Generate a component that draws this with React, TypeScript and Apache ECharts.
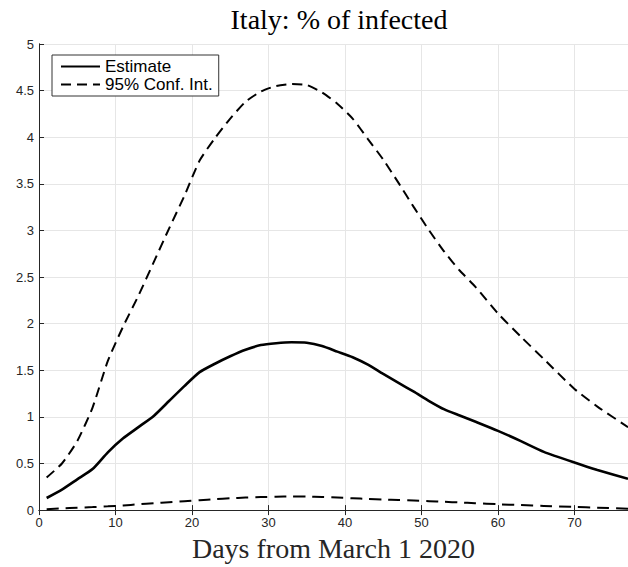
import React, { useEffect, useRef } from "react";
import * as echarts from "echarts";

const days = [1, 3, 5, 7, 9, 11, 13, 15, 17, 19, 21, 23, 25, 27, 29, 31, 33, 35, 37, 39, 41, 43, 45, 47, 49, 51, 53, 55, 57, 60, 63, 66, 70, 73, 77];
const estimate = [0.13, 0.22, 0.33, 0.44, 0.62, 0.77, 0.89, 1.01, 1.17, 1.33, 1.48, 1.57, 1.65, 1.72, 1.77, 1.79, 1.8, 1.795, 1.76, 1.7, 1.64, 1.56, 1.46, 1.365, 1.27, 1.17, 1.08, 1.015, 0.95, 0.85, 0.74, 0.625, 0.51, 0.43, 0.335];
const upperCI = [0.35, 0.5, 0.74, 1.1, 1.6, 1.97, 2.3, 2.66, 3.02, 3.37, 3.75, 3.99, 4.2, 4.38, 4.49, 4.55, 4.57, 4.56, 4.48, 4.36, 4.2, 3.98, 3.76, 3.51, 3.25, 3.0, 2.77, 2.57, 2.4, 2.11, 1.86, 1.62, 1.3, 1.11, 0.89];
const lowerCI = [0.01, 0.018, 0.025, 0.032, 0.04, 0.05, 0.062, 0.074, 0.085, 0.096, 0.106, 0.117, 0.127, 0.134, 0.14, 0.144, 0.146, 0.145, 0.141, 0.134, 0.127, 0.12, 0.114, 0.108, 0.102, 0.096, 0.089, 0.082, 0.074, 0.063, 0.054, 0.045, 0.034, 0.026, 0.015];

const titleText = "Italy: % of infected";
const xLabel = "Days from March 1 2020";
const seriesNames = ["Estimate", "95% Conf. Int."];

const pair = (vals: number[]) => days.map((d, i) => [d, vals[i]]);

export default function App() {
  const ref = useRef<HTMLDivElement>(null);
  useEffect(() => {
    document.body.style.margin = "0";
    const chart = echarts.init(ref.current!, null, { renderer: "svg" });
    const axisColor = "#262626";
    const sans = "Liberation Sans";
    const serif = "Liberation Serif";
    chart.setOption({
      animation: false,
      backgroundColor: "#ffffff",
      title: {
        text: titleText,
        left: 334,
        textAlign: "center",
        top: 0,
        textStyle: { fontFamily: serif, fontSize: 28, fontWeight: "normal", color: "#000" },
      },
      legend: {
        orient: "vertical",
        left: 52,
        top: 55,
        backgroundColor: "#fff",
        borderColor: "#333",
        borderWidth: 1,
        borderRadius: 0,
        padding: [3, 6, 3, 8],
        itemGap: 1,
        itemWidth: 39,
        itemHeight: 17,
        itemStyle: { opacity: 0 },
        data: seriesNames,
        textStyle: { fontFamily: sans, fontSize: 17, color: "#000" },
      },
      grid: { left: 39, right: 0, top: 44, bottom: 56, containLabel: false },
      xAxis: [
        {
          type: "value",
          min: 0,
          max: 77,
          interval: 10,
          position: "bottom",
          name: xLabel,
          nameLocation: "middle",
          nameGap: 16,
          nameTextStyle: { fontFamily: serif, fontSize: 28, color: "#262626", verticalAlign: "top" },
          axisLine: { show: true, lineStyle: { color: axisColor, width: 1 } },
          axisTick: { show: true, inside: true, length: 5, lineStyle: { color: axisColor } },
          axisLabel: { fontFamily: sans, fontSize: 13, color: axisColor, margin: 6, showMaxLabel: false },
          splitLine: { show: true, lineStyle: { color: "#e6e6e6", width: 1 } },
        },
        {
          type: "value",
          min: 0,
          max: 77,
          interval: 10,
          position: "top",
          axisLine: { show: true, lineStyle: { color: axisColor, width: 1 } },
          axisTick: { show: true, inside: true, length: 5, lineStyle: { color: axisColor } },
          axisLabel: { show: false },
          splitLine: { show: false },
        },
      ],
      yAxis: [
        {
          type: "value",
          min: 0,
          max: 5,
          interval: 0.5,
          position: "left",
          axisLine: { show: true, lineStyle: { color: axisColor, width: 1 } },
          axisTick: { show: true, inside: true, length: 5, lineStyle: { color: axisColor } },
          axisLabel: { fontFamily: sans, fontSize: 13, color: axisColor, margin: 5 },
          splitLine: { show: true, lineStyle: { color: "#e6e6e6", width: 1 } },
        },
        {
          type: "value",
          min: 0,
          max: 5,
          interval: 0.5,
          position: "right",
          axisLine: { show: true, lineStyle: { color: axisColor, width: 1 } },
          axisTick: { show: false },
          axisLabel: { show: false },
          splitLine: { show: false },
        },
      ],
      series: [
        {
          name: seriesNames[0],
          type: "line",
          data: pair(estimate),
          smooth: 0.2,
          symbol: "none",
          lineStyle: { color: "#000", width: 2.6, type: "solid" },
          itemStyle: { color: "#000" },
          z: 3,
        },
        {
          name: seriesNames[1],
          type: "line",
          data: pair(upperCI),
          smooth: 0.2,
          symbol: "none",
          lineStyle: { color: "#000", width: 2, type: [10, 6] },
          itemStyle: { color: "#000" },
          z: 2,
        },
        {
          name: "lower",
          type: "line",
          data: pair(lowerCI),
          smooth: 0.2,
          symbol: "none",
          lineStyle: { color: "#000", width: 2, type: [12, 7] },
          itemStyle: { color: "#000" },
          z: 2,
        },
      ],
    });
    return () => chart.dispose();
  }, []);
  return <div ref={ref} style={{ width: 628, height: 567 }} />;
}
